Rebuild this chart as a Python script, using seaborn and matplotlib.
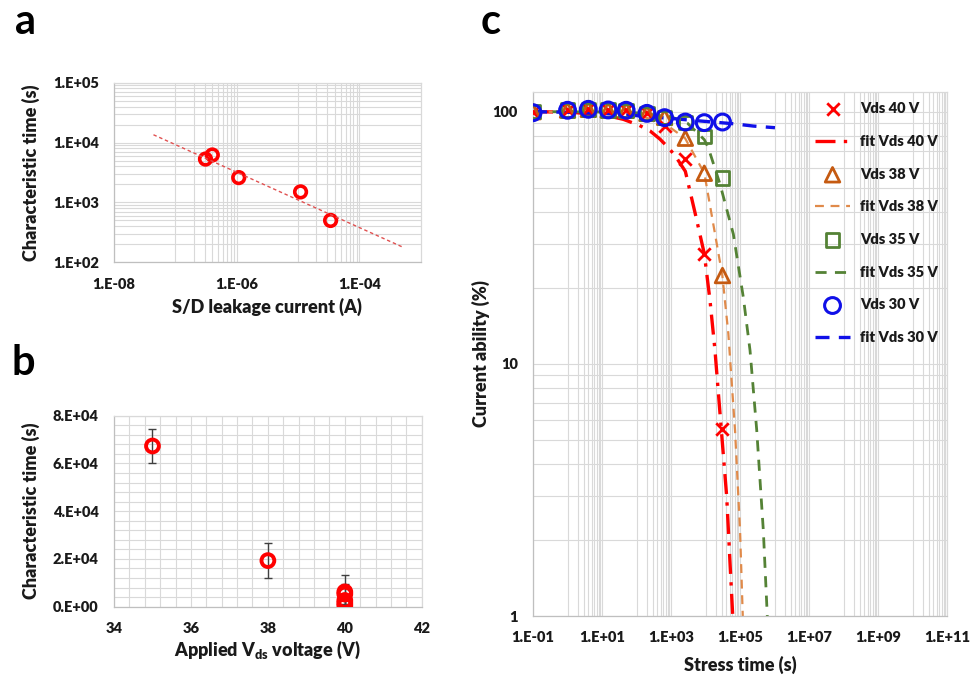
import numpy as np
import pandas as pd
import matplotlib
matplotlib.use("Agg")
import matplotlib.pyplot as plt
import seaborn as sns
from matplotlib.ticker import FixedLocator, FixedFormatter, NullFormatter

# ---------------- data ----------------
# panel a
leak_current = [3.1e-7, 4.0e-7, 1.08e-6, 1.1e-5, 3.4e-5]
char_time_a = [5300, 6200, 2600, 1500, 500]
fit_a_x = [4.4e-8, 5.0e-4]
fit_a_y = [1.35e4, 181]

# panel b
vds_b = [35, 38, 40, 40, 40, 40, 40]
char_time_b = [67300, 19300, 6200, 5300, 2600, 1500, 500]
err_b = [7200, 7200, 7000, 4000, 2000, 1200, 400]

# panel c
stress_time = [0.1, 1, 4, 15, 50, 200, 650, 2600, 9200, 31000]
vds40 = [100, 101.5, 102.2, 101.6, 101.3, 98.5, 87.7, 64.8, 27.3, 5.5]
vds38 = [100, 101.5, 102.2, 101.6, 101.3, 98.5, 95.0, 78.5, 57.0, 22.4]
vds35 = [100, 101.5, 102.2, 101.6, 101.3, 98.5, 95.0, 90.5, 79.6, 54.5]
vds30 = [99.1, 101.3, 102.2, 101.6, 101.3, 98.5, 94.7, 91.0, 90.5, 91.0]

fit40_t = [0.1, 1, 10, 41, 120, 246, 480, 836, 1306, 2600, 4970, 6180, 9230, 13500,
           18800, 26300, 41100, 51300, 61400]
fit40_y = [100, 99.6, 97.5, 93.3, 88.3, 83.9, 77.8, 72.0, 67.0, 58.0, 39.7, 34.8, 27.3,
           17.8, 11.3, 6.35, 2.97, 1.62, 1.0]
fit38_t = [0.1, 10, 100, 400, 1000, 2550, 9230, 30700, 45800, 71600, 100000, 120000]
fit38_y = [100, 99.5, 97, 92, 86, 78.5, 57, 22.4, 13.2, 5.45, 2.19, 1.0]
fit35_t = [0.1, 10, 100, 1000, 3000, 9200, 12000, 26300, 64000, 125000, 195000,
           305000, 473000, 617000]
fit35_y = [100, 99.8, 99, 95.5, 90, 77.5, 72.0, 51.6, 32.7, 18.3, 11.3, 5.45, 2.19, 1.0]
fit30_t = [0.1, 1, 10, 100, 1000, 10000, 64000, 243000, 1030000]
fit30_y = [100, 99.5, 98.5, 96.5, 94, 91.5, 89.6, 87.7, 86.4]

# ---------------- style ----------------
sns.set_theme(style="white")
plt.rcParams['font.family'] = ['Lato', 'DejaVu Sans']
plt.rcParams['font.weight'] = 'heavy'
plt.rcParams['mathtext.fontset'] = 'custom'
plt.rcParams['mathtext.rm'] = 'Lato:heavy'
plt.rcParams['mathtext.it'] = 'Lato:heavy'
plt.rcParams['mathtext.bf'] = 'Lato:heavy'

GRID = '#D9D9D9'
TXT = '#1a1a1a'
TICKFS = 10.5
LABFS = 13
W = 'heavy'

fig = plt.figure(figsize=(9.72, 6.75), dpi=100)
ax_a = fig.add_axes([0.1173, 0.6114, 0.3155, 0.2661])
ax_b = fig.add_axes([0.1173, 0.1012, 0.3166, 0.2830])
ax_c = fig.add_axes([0.5484, 0.0874, 0.4259, 0.7767])

def style_axes(ax):
    for s in ax.spines.values():
        s.set_color(GRID)
        s.set_linewidth(0.9)
    ax.spines['bottom'].set_color('#BFBFBF')
    ax.spines['left'].set_color('#BFBFBF')
    ax.tick_params(which='both', length=0, labelsize=TICKFS, colors=TXT, pad=11)
    for lab in ax.get_xticklabels() + ax.get_yticklabels():
        lab.set_fontweight(W)
    ax.set_axisbelow(True)

# ---------------- panel a ----------------
ax_a.set_xscale('log')
ax_a.set_yscale('log')
ax_a.set_xlim(1e-8, 1e-3)
ax_a.set_ylim(1e2, 1e5)
xa_major = [1e-8, 1e-6, 1e-4]
xa_minor = [m * 10.0 ** d for d in (-7, -5) for m in range(1, 10)]
ax_a.xaxis.set_major_locator(FixedLocator(xa_major))
ax_a.xaxis.set_major_formatter(FixedFormatter(['1.E-08', '1.E-06', '1.E-04']))
ax_a.xaxis.set_minor_locator(FixedLocator(xa_minor))
ax_a.xaxis.set_minor_formatter(NullFormatter())
ax_a.yaxis.set_major_locator(FixedLocator([1e2, 1e3, 1e4, 1e5]))
ax_a.yaxis.set_major_formatter(FixedFormatter(['1.E+02', '1.E+03', '1.E+04', '1.E+05']))
ax_a.yaxis.set_minor_locator(FixedLocator([m * 10.0 ** d for d in (2, 3, 4) for m in range(2, 10)]))
ax_a.yaxis.set_minor_formatter(NullFormatter())
ax_a.grid(which='both', color=GRID, lw=0.8)
sns.lineplot(x=fit_a_x, y=fit_a_y, ax=ax_a, color='#E05050', lw=1.0,
             linestyle=(0, (2.5, 2)), legend=False)
sns.scatterplot(x=leak_current, y=char_time_a, ax=ax_a, marker='o', s=70,
                facecolors='none', edgecolor='#FF0000', linewidth=2.6, legend=False)
ax_a.set_xlabel('S/D leakage current (A)', fontsize=LABFS, fontweight=W, color=TXT, labelpad=5)
ax_a.set_ylabel('Characteristic time (s)', fontsize=LABFS, fontweight=W, color=TXT, labelpad=9)
style_axes(ax_a)

# ---------------- panel b ----------------
ax_b.set_xlim(34, 42)
ax_b.set_ylim(0, 8e4)
ax_b.xaxis.set_major_locator(FixedLocator([34, 36, 38, 40, 42]))
ax_b.xaxis.set_major_formatter(FixedFormatter(['34', '36', '38', '40', '42']))
ax_b.xaxis.set_minor_locator(FixedLocator(list(np.arange(34, 42.01, 0.4))))
ax_b.yaxis.set_major_locator(FixedLocator([0, 2e4, 4e4, 6e4, 8e4]))
ax_b.yaxis.set_major_formatter(FixedFormatter(['0.E+00', '2.E+04', '4.E+04', '6.E+04', '8.E+04']))
ax_b.yaxis.set_minor_locator(FixedLocator(list(np.arange(0, 80001, 4000))))
ax_b.grid(which='both', color=GRID, lw=0.8)
ax_b.errorbar(vds_b, char_time_b, yerr=err_b, fmt='none', ecolor='#404040',
              elinewidth=1.0, capsize=3, capthick=1.0, zorder=2)
sns.scatterplot(x=vds_b, y=char_time_b, ax=ax_b, marker='o', s=85,
                facecolors='none', edgecolor='#FF0000', linewidth=2.8, legend=False, zorder=3)
ax_b.set_xlabel(r'Applied V$_{\mathrm{ds}}$ voltage (V)', fontsize=LABFS, fontweight=W, color=TXT, labelpad=3)
ax_b.set_ylabel('Characteristic time (s)', fontsize=LABFS, fontweight=W, color=TXT, labelpad=9)
style_axes(ax_b)

# ---------------- panel c ----------------
ax_c.set_xscale('log')
ax_c.set_yscale('log')
ax_c.set_xlim(0.1, 1e11)
ax_c.set_ylim(1, 120)
xc_major = [10.0 ** k for k in range(-1, 12, 2)]
xc_labels = ['1.E-01', '1.E+01', '1.E+03', '1.E+05', '1.E+07', '1.E+09', '1.E+11']
xc_minor = [m * 10.0 ** d for d in range(0, 11, 2) for m in range(1, 10)]
ax_c.xaxis.set_major_locator(FixedLocator(xc_major))
ax_c.xaxis.set_major_formatter(FixedFormatter(xc_labels))
ax_c.xaxis.set_minor_locator(FixedLocator(xc_minor))
ax_c.xaxis.set_minor_formatter(NullFormatter())
ax_c.yaxis.set_major_locator(FixedLocator([1, 10, 100]))
ax_c.yaxis.set_major_formatter(FixedFormatter(['1', '10', '100']))
ax_c.yaxis.set_minor_locator(FixedLocator([m * 10.0 ** d for d in (0, 1) for m in range(2, 10)]))
ax_c.yaxis.set_minor_formatter(NullFormatter())
ax_c.grid(which='both', color=GRID, lw=0.8)

handles = []
h = ax_c.scatter(stress_time, vds40, marker='x', s=80, color='#FF0000', linewidths=2.0,
                 label='Vds 40 V', zorder=3)
handles.append(h)
sns.lineplot(x=fit40_t, y=fit40_y, ax=ax_c, color='#FF0000', lw=2.4, sort=False,
             linestyle=(0, (6, 2.5, 1, 2.5)), label='fit Vds 40 V', zorder=2)
handles.append(ax_c.lines[-1])
sns.scatterplot(x=stress_time, y=vds38, ax=ax_c, marker='^', s=110, facecolors='none',
                edgecolor='#C55A11', linewidth=2.0, label='Vds 38 V', zorder=3)
handles.append(ax_c.collections[-1])
sns.lineplot(x=fit38_t, y=fit38_y, ax=ax_c, color='#E08A4A', lw=1.6, sort=False,
             linestyle=(0, (4, 3)), label='fit Vds 38 V', zorder=2)
handles.append(ax_c.lines[-1])
sns.scatterplot(x=stress_time, y=vds35, ax=ax_c, marker='s', s=95, facecolors='none',
                edgecolor='#548235', linewidth=2.0, label='Vds 35 V', zorder=3)
handles.append(ax_c.collections[-1])
sns.lineplot(x=fit35_t, y=fit35_y, ax=ax_c, color='#548235', lw=2.0, sort=False,
             linestyle=(0, (4, 3)), label='fit Vds 35 V', zorder=2)
handles.append(ax_c.lines[-1])
sns.scatterplot(x=stress_time, y=vds30, ax=ax_c, marker='o', s=130, facecolors='none',
                edgecolor='#1010E8', linewidth=2.2, label='Vds 30 V', zorder=3)
handles.append(ax_c.collections[-1])
sns.lineplot(x=fit30_t, y=fit30_y, ax=ax_c, color='#1010E8', lw=2.4, sort=False,
             linestyle=(0, (4.2, 2.8)), label='fit Vds 30 V', zorder=2)
handles.append(ax_c.lines[-1])

labels = ['Vds 40 V', 'fit Vds 40 V', 'Vds 38 V', 'fit Vds 38 V',
          'Vds 35 V', 'fit Vds 35 V', 'Vds 30 V', 'fit Vds 30 V']
leg = ax_c.legend(handles, labels, loc='upper left', bbox_to_anchor=(0.825, 0.868),
                  bbox_transform=fig.transFigure, frameon=False,
                  labelspacing=1.35, handlelength=2.4, handletextpad=0.7,
                  prop={'weight': W, 'size': 10.5, 'family': ['Lato', 'DejaVu Sans']})
for t in leg.get_texts():
    t.set_color(TXT)

ax_c.set_xlabel('Stress time (s)', fontsize=LABFS, fontweight=W, color=TXT, labelpad=8)
ax_c.set_ylabel('Current ability (%)', fontsize=LABFS, fontweight=W, color=TXT, labelpad=2)
style_axes(ax_c)

# panel letters
fig.text(0.0154, 0.9496, 'a', fontsize=30, fontweight='bold', color='black', va='baseline')
fig.text(0.0123, 0.4444, 'b', fontsize=30, fontweight='bold', color='black', va='baseline')
fig.text(0.494, 0.9496, 'c', fontsize=30, fontweight='bold', color='black', va='baseline')

fig.savefig('out.png', dpi=100)
